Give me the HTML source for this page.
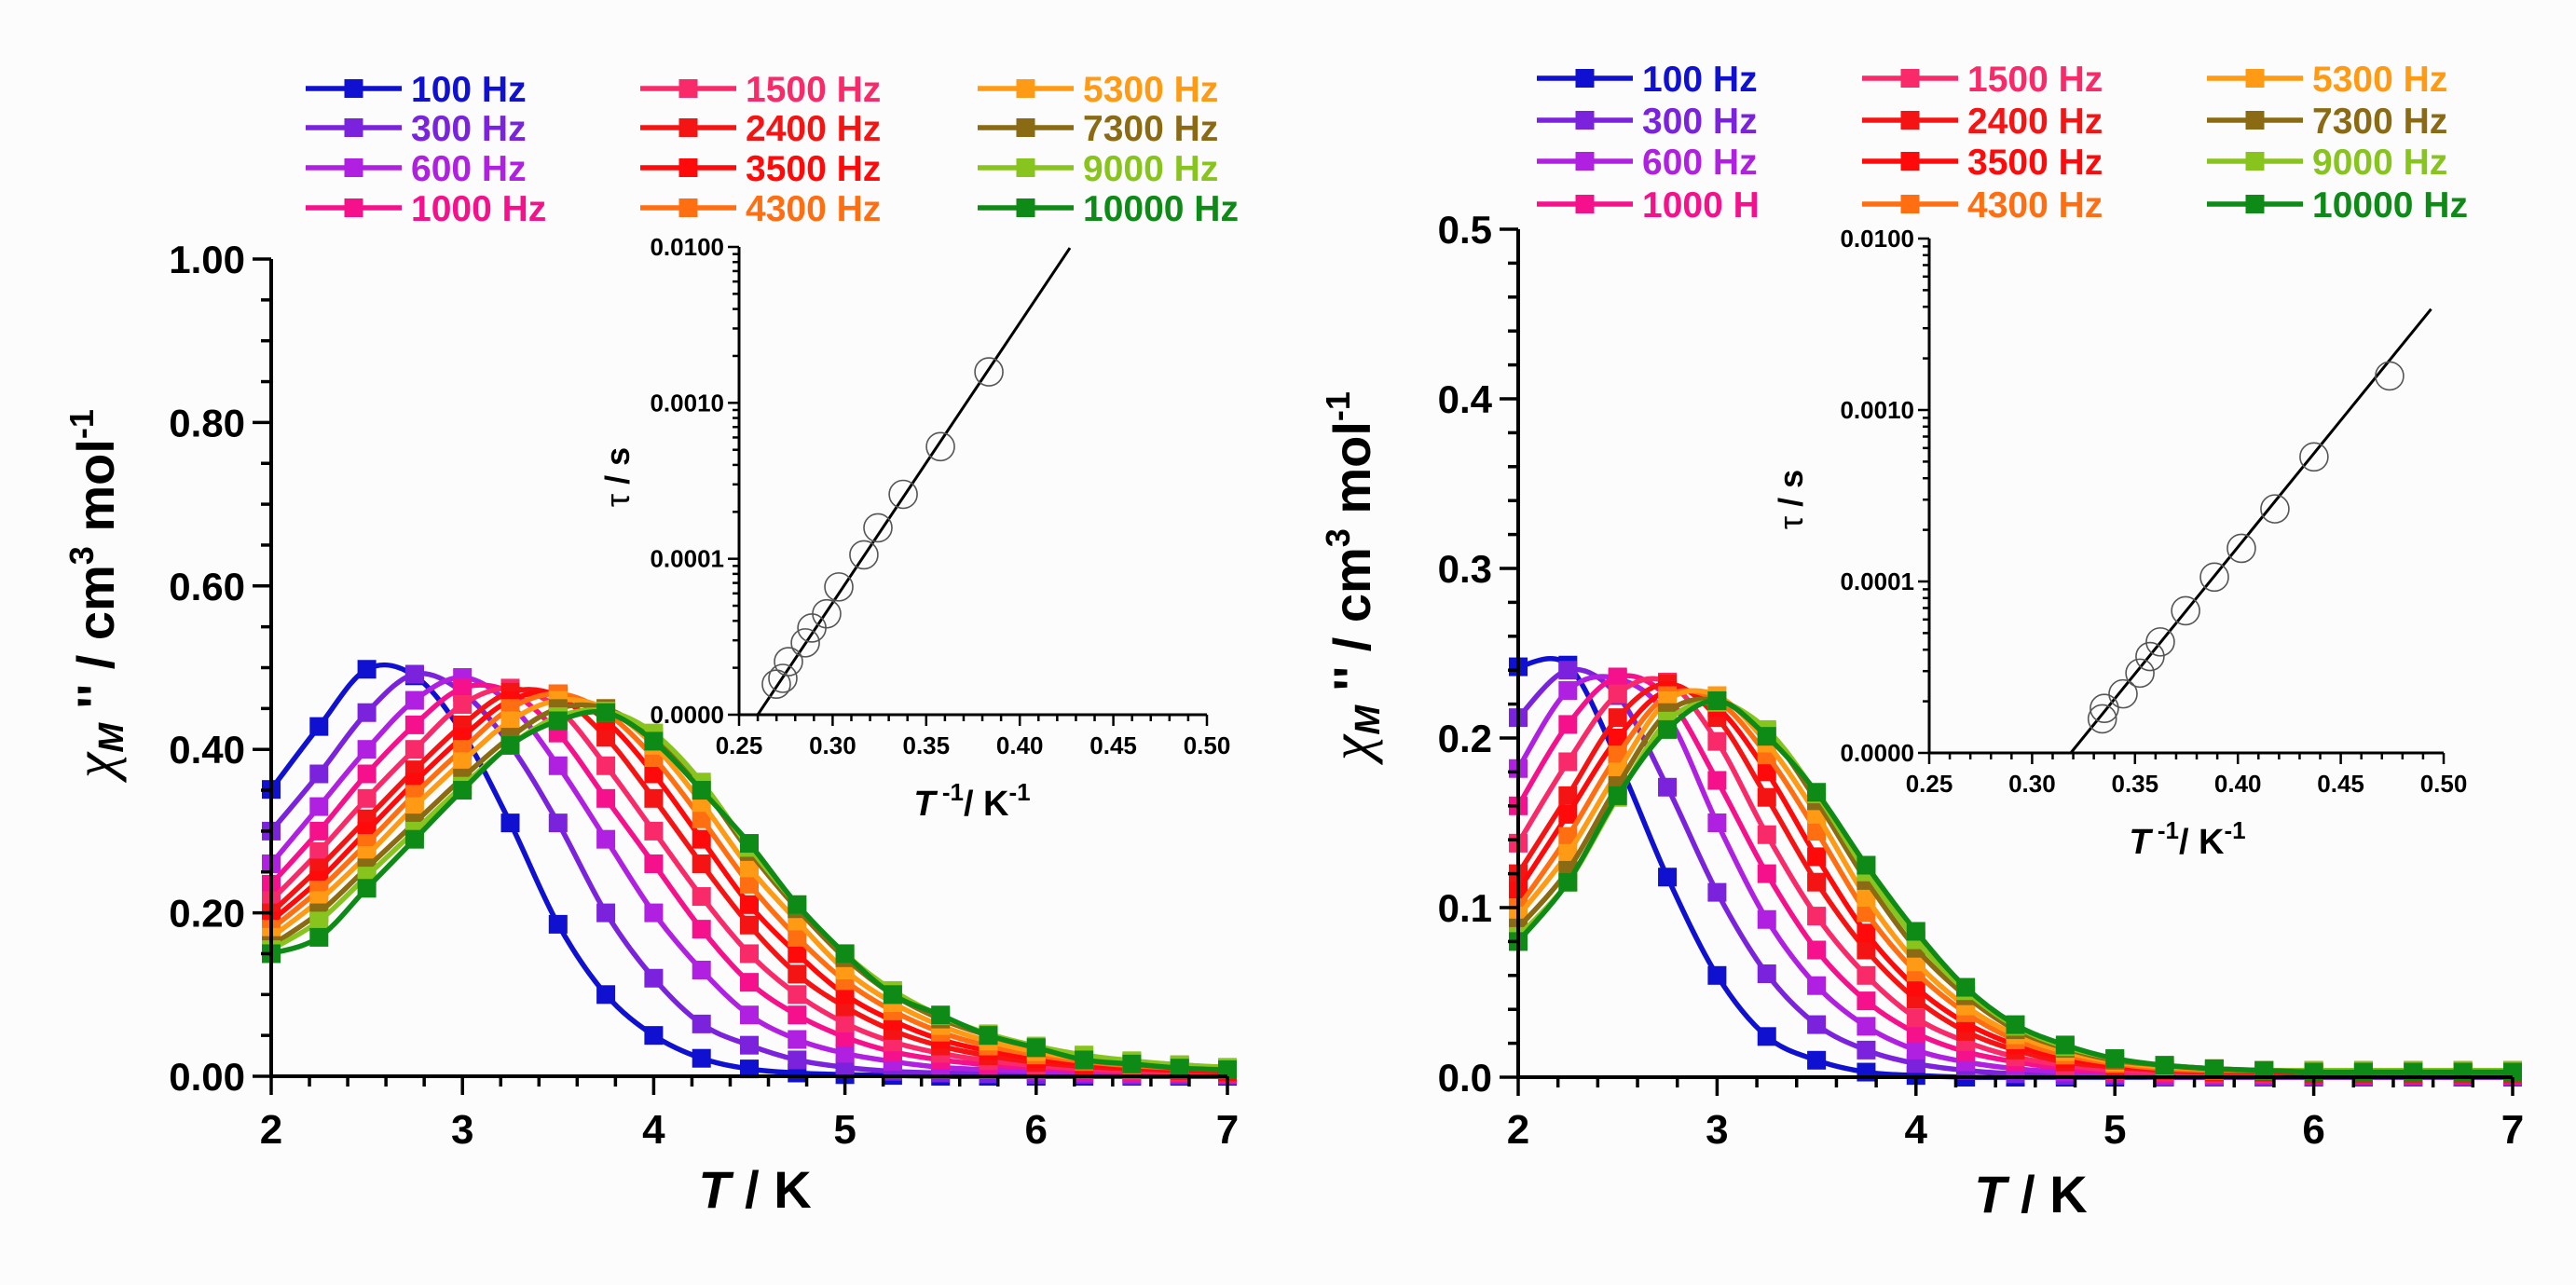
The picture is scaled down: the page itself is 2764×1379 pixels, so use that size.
<!DOCTYPE html>
<html><head><meta charset="utf-8"><style>
html,body{margin:0;padding:0;background:#fcfcfc;}
svg{display:block;font-family:"Liberation Sans",Arial,sans-serif;}
</style></head><body>
<svg id="fig" width="2764" height="1379" viewBox="0 0 2764 1379" xmlns="http://www.w3.org/2000/svg">
<rect x="0" y="0" width="2764" height="1379" fill="#fcfcfc"/>
</svg>
<script>
// ---------- data ----------
const temps = [2,2.25,2.5,2.75,3,3.25,3.5,3.75,4,4.25,4.5,4.75,5,5.25,5.5,5.75,6,6.25,6.5,6.75,7];
const freqLabels = ["100 Hz","300 Hz","600 Hz","1000 Hz","1500 Hz","2400 Hz","3500 Hz","4300 Hz","5300 Hz","7300 Hz","9000 Hz","10000 Hz"];
const freqLabelsRight = ["100 Hz","300 Hz","600 Hz","1000 H","1500 Hz","2400 Hz","3500 Hz","4300 Hz","5300 Hz","7300 Hz","9000 Hz","10000 Hz"];
const colors = ["#1010d0","#7a22dc","#b020e0","#f5108c","#f82a6a","#f51414","#ff0a0a","#ff6f12","#ff9a14","#8a6a12","#88c41e","#0e8a16"];
const leftF100 = [.351,.428,.498,.490,.420,.310,.186,.100,.050,.022,.009,.004,.002,.001,0,0,0,0,0,0,0];
const leftF300 = [.300,.370,.445,.492,.470,.405,.310,.200,.120,.064,.038,.020,.011,.006,.004,.003,.002,.002,.001,.001,.001];
const leftF600 = [.260,.330,.400,.460,.488,.455,.380,.290,.200,.130,.075,.045,.028,.018,.011,.008,.006,.004,.003,.003,.002];
const leftF1000 = [.235,.300,.370,.430,.475,.470,.420,.340,.260,.180,.115,.075,.048,.030,.020,.014,.010,.007,.005,.004,.003];
const leftF1500 = [.215,.275,.340,.400,.455,.475,.450,.380,.300,.220,.150,.100,.065,.042,.028,.019,.013,.009,.007,.005,.004];
const leftF2400 = [.200,.255,.315,.375,.430,.470,.465,.415,.340,.260,.185,.125,.085,.056,.037,.025,.017,.012,.009,.007,.005];
const leftF3500 = [.190,.240,.300,.360,.415,.460,.468,.435,.370,.290,.210,.150,.100,.068,.045,.031,.021,.015,.011,.008,.006];
const leftF4300 = [.180,.228,.285,.345,.400,.450,.468,.445,.390,.315,.235,.170,.117,.080,.054,.037,.026,.018,.013,.010,.008];
const leftF5300 = [.170,.215,.270,.330,.385,.435,.460,.450,.405,.335,.255,.190,.130,.090,.062,.043,.030,.021,.016,.012,.009];
const leftF7300 = [.160,.200,.255,.310,.365,.415,.450,.450,.415,.355,.275,.205,.145,.100,.070,.050,.035,.025,.018,.014,.010];
const leftF9000 = [.155,.190,.245,.300,.355,.405,.440,.447,.420,.360,.280,.210,.150,.105,.074,.052,.037,.026,.019,.014,.011];
const leftF10000 = [.150,.170,.230,.290,.350,.405,.435,.445,.410,.350,.285,.210,.150,.100,.075,.050,.035,.020,.015,.010,.008];
const rightF100 = [.242,.243,.187,.118,.060,.024,.010,.003,.001,0,0,0,0,0,0,0,0,0,0,0,0];
const rightF300 = [.212,.240,.225,.171,.109,.061,.031,.016,.008,.004,.002,.001,.001,0,0,0,0,0,0,0,0];
const rightF600 = [.182,.228,.235,.213,.150,.093,.054,.030,.016,.009,.005,.003,.002,.001,.001,.001,.001,.001,.001,.001,.001];
const rightF1000 = [.160,.208,.236,.224,.175,.120,.075,.045,.026,.015,.009,.005,.003,.002,.002,.002,.001,.001,.001,.001,.001];
const rightF1500 = [.138,.186,.226,.233,.198,.143,.095,.060,.035,.021,.012,.007,.004,.003,.002,.002,.002,.002,.002,.002,.002];
const rightF2400 = [.120,.166,.212,.232,.212,.165,.115,.075,.046,.027,.016,.009,.006,.004,.003,.003,.002,.002,.002,.002,.002];
const rightF3500 = [.110,.155,.200,.228,.218,.180,.130,.085,.053,.032,.019,.011,.007,.005,.004,.003,.003,.003,.003,.003,.003];
const rightF4300 = [.100,.142,.190,.225,.222,.190,.145,.097,.062,.038,.022,.013,.008,.005,.004,.004,.003,.003,.003,.003,.003];
const rightF5300 = [.095,.132,.180,.222,.225,.197,.155,.106,.068,.042,.025,.015,.009,.006,.005,.004,.004,.004,.004,.004,.004];
const rightF7300 = [.088,.122,.172,.215,.222,.204,.163,.116,.076,.048,.028,.017,.010,.007,.005,.004,.004,.004,.004,.004,.004];
const rightF9000 = [.083,.115,.165,.210,.221,.205,.167,.121,.081,.051,.030,.018,.011,.007,.005,.004,.004,.004,.004,.004,.004];
const rightF10000 = [.080,.115,.166,.205,.222,.201,.168,.125,.086,.053,.031,.019,.011,.007,.005,.004,.003,.003,.003,.003,.003];
const leftSeries = [leftF100,leftF300,leftF600,leftF1000,leftF1500,leftF2400,leftF3500,leftF4300,leftF5300,leftF7300,leftF9000,leftF10000];
const rightSeries = [rightF100,rightF300,rightF600,rightF1000,rightF1500,rightF2400,rightF3500,rightF4300,rightF5300,rightF7300,rightF9000,rightF10000];
const leftYTicks = ["0.00","0.20","0.40","0.60","0.80","1.00"];
const rightYTicks = ["0.0","0.1","0.2","0.3","0.4","0.5"];
const xTicks = ["2","3","4","5","6","7"];
const insetXTicks = ["0.25","0.30","0.35","0.40","0.45","0.50"];
const insetYTicks = ["0.0000","0.0001","0.0010","0.0100"];
const leftInvT = [0.2699,0.2734,0.2764,0.2854,0.2889,0.2968,0.3033,0.3167,0.3242,0.3377,0.3576,0.3835];
const leftTau = [1.57e-5,1.71e-5,2.19e-5,2.89e-5,3.6e-5,4.44e-5,6.6e-5,1.06e-4,1.58e-4,2.59e-4,5.24e-4,1.58e-3];
const leftFitX = [0.2600,0.4268];
const leftFitTau = [1.0e-5,9.86e-3];
const rightInvT = [0.3341,0.3351,0.3442,0.3524,0.3573,0.3623,0.3746,0.3886,0.4017,0.4180,0.4370,0.4737];
const rightTau = [1.58e-5,1.82e-5,2.21e-5,2.92e-5,3.65e-5,4.44e-5,6.75e-5,1.06e-4,1.56e-4,2.65e-4,5.33e-4,1.58e-3];
const rightFitX = [0.3188,0.4939];
const rightFitTau = [1.0e-5,3.88e-3];

// ---------- helpers ----------
const NS = "http://www.w3.org/2000/svg";
const svg = document.getElementById("fig");
function mk(tag, attrs, parent){const e=document.createElementNS(NS,tag);for(const k in attrs)e.setAttribute(k,attrs[k]);(parent||svg).appendChild(e);return e;}
function smoothPath(p){
  let d="M"+p[0][0]+","+p[0][1];
  for(let i=0;i<p.length-1;i++){
    const p0=p[i-1]||p[i],p1=p[i],p2=p[i+1],p3=p[i+2]||p[i+1];
    const c1x=p1[0]+(p2[0]-p0[0])/6,c1y=p1[1]+(p2[1]-p0[1])/6;
    const c2x=p2[0]-(p3[0]-p1[0])/6,c2y=p2[1]-(p3[1]-p1[1])/6;
    d+=" C"+c1x+","+c1y+" "+c2x+","+c2y+" "+p2[0]+","+p2[1];
  }
  return d;
}
const MS=20;

function mainPlot(cfg){
  const g=mk("g",{});
  
  
  const sx=t=>cfg.x0+(t-2)/5*(cfg.x1-cfg.x0);
  const sy=v=>cfg.y0-v/cfg.ymax*(cfg.y0-cfg.y1);
  cfg.series.forEach((vals,si)=>{
    const sg=mk("g",{},g);
    
    
    const pts=temps.map((t,i)=>[sx(t),sy(vals[i])]);
    const path=mk("path",{d:smoothPath(pts),fill:"none",stroke:colors[si],"stroke-width":5.5,"stroke-linejoin":"round"},sg);
    
    
    pts.forEach(p=>{
      const r=mk("rect",{x:p[0]-MS/2,y:p[1]-MS/2,width:MS,height:MS,fill:colors[si]},sg);
      
      
    });
  });
  const ax=mk("path",{d:`M${cfg.x0},${cfg.y1} L${cfg.x0},${cfg.y0} L${cfg.x1},${cfg.y0}`,fill:"none",stroke:"#000","stroke-width":4},g);
  
  
  for(let k=0;k<=25;k++){
    const t=2+k*0.2,x=sx(t),maj=(k%5===0);
    const tk=mk("line",{x1:x,y1:cfg.y0,x2:x,y2:cfg.y0+(maj?20:11),stroke:"#000","stroke-width":3.5},g);
    
    
  }
  xTicks.forEach((lab,i)=>{
    const t=mk("text",{x:sx(+lab),y:1227,"text-anchor":"middle","font-size":44,"font-weight":"bold",fill:"#000"},g);
    t.textContent=lab;
    
    
  });
  const nMinor=cfg.ymax/cfg.minorStep;
  for(let k=0;k<=nMinor;k++){
    const v=k*cfg.minorStep,y=sy(v),maj=(k%cfg.majorEvery===0);
    const tk=mk("line",{x1:cfg.x0,y1:y,x2:cfg.x0-(maj?20:11),y2:y,stroke:"#000","stroke-width":3.5},g);
    
    
  }
  cfg.yTicks.forEach(lab=>{
    const t=mk("text",{x:cfg.x0-28,y:sy(+lab)+15,"text-anchor":"end","font-size":42,"font-weight":"bold",fill:"#000"},g);
    t.textContent=lab;
    
    
  });
  const xt=mk("text",{x:cfg.xtx,y:cfg.xty,"text-anchor":"middle","font-size":56,"font-weight":"bold",fill:"#000"},g);
  xt.innerHTML='<tspan font-style="italic">T</tspan> / K';
  
  
  const yt=mk("text",{transform:`translate(${cfg.ytx},${cfg.yty}) rotate(-90)`,"text-anchor":"middle","font-size":56,"font-weight":"bold",fill:"#000"},g);
  yt.innerHTML='<tspan font-style="italic" font-weight="normal" font-family="Liberation Serif, serif" font-size="62">χ</tspan><tspan font-style="italic" font-size="38" dy="10">M</tspan><tspan dy="-10"> \'\' / cm</tspan><tspan font-size="36" dy="-22">3</tspan><tspan dy="22"> mol</tspan><tspan font-size="36" dy="-22">-1</tspan>';
  
  
  const lg=mk("g",{},g);
  
  
  cfg.labels.forEach((lab,i)=>{
    const col=Math.floor(i/4),row=i%4;
    const lx=cfg.legX[col],ly=cfg.legY[row];
    const eg=mk("g",{},lg);
    
    
    mk("line",{x1:lx,y1:ly,x2:lx+103,y2:ly,stroke:colors[i],"stroke-width":5.5},eg);
    mk("rect",{x:lx+51.5-MS/2,y:ly-MS/2,width:MS,height:MS,fill:colors[i]},eg);
    const t=mk("text",{x:lx+113,y:ly+14,"font-size":39,"font-weight":"bold",fill:colors[i]},eg);
    t.textContent=lab;
    
    
  });
}

function inset(cfg){
  const g=mk("g",{});
  
  
  const sx=v=>cfg.x0+(v-0.25)/0.25*(cfg.x1-cfg.x0);
  const sy=v=>cfg.yb-(Math.log10(v)+5)/3*(cfg.yb-cfg.yt);
  const fit=mk("line",{x1:sx(cfg.fitX[0]),y1:sy(cfg.fitTau[0]),x2:sx(cfg.fitX[1]),y2:sy(cfg.fitTau[1]),stroke:"#000","stroke-width":3},g);
  
  
  cfg.invT.forEach((x,i)=>{
    const c=mk("circle",{cx:sx(x),cy:sy(cfg.tau[i]),r:15,fill:"none",stroke:"#555","stroke-width":1.6},g);
    
    
  });
  const ax=mk("path",{d:`M${cfg.x0},${cfg.yt} L${cfg.x0},${cfg.yb} L${cfg.x1},${cfg.yb}`,fill:"none",stroke:"#000","stroke-width":3},g);
  
  
  for(let k=0;k<=25;k++){
    const x=sx(0.25+k*0.01),maj=(k%5===0);
    mk("line",{x1:x,y1:cfg.yb,x2:x,y2:cfg.yb+(maj?12:7),stroke:"#000","stroke-width":2.5},g);
  }
  insetXTicks.forEach(lab=>{
    const t=mk("text",{x:sx(+lab),y:cfg.yb+42,"text-anchor":"middle","font-size":26,"font-weight":"bold",fill:"#000"},g);
    t.textContent=lab;
    
    
  });
  for(let d=-5;d<=-2;d++){
    for(let m=1;m<=9;m++){
      if(d===-2&&m>1)break;
      const y=sy(m*Math.pow(10,d));
      mk("line",{x1:cfg.x0,y1:y,x2:cfg.x0-(m===1?12:7),y2:y,stroke:"#000","stroke-width":2.5},g);
    }
  }
  insetYTicks.forEach((lab,i)=>{
    const t=mk("text",{x:cfg.x0-16,y:sy(Math.pow(10,-5+i))+9,"text-anchor":"end","font-size":26,"font-weight":"bold",fill:"#000"},g);
    t.textContent=lab;
    
    
  });
  const xt=mk("text",{x:(cfg.x0+cfg.x1)/2+ (cfg.titleDx||0),y:cfg.yb+108,"text-anchor":"middle","font-size":38,"font-weight":"bold",fill:"#000"},g);
  xt.innerHTML='<tspan font-style="italic">T</tspan><tspan font-size="26" dy="-16"> -1</tspan><tspan dy="16">/ K</tspan><tspan font-size="26" dy="-16">-1</tspan>';
  
  
  const yt=mk("text",{transform:`translate(${cfg.tauX},${cfg.tauY}) rotate(-90)`,"text-anchor":"middle","font-size":36,"font-weight":"bold",fill:"#000"},g);
  yt.innerHTML='<tspan font-weight="normal">τ</tspan> / s';
  
  
}

mainPlot({name:"left-chart",series:leftSeries,labels:freqLabels,x0:291,x1:1317,y0:1155,y1:278,ymax:1.0,minorStep:0.05,majorEvery:4,yTicks:leftYTicks,
  xtx:810,xty:1296,ytx:122,yty:637,legX:[328,687,1049],legY:[95,137,180,223]});
mainPlot({name:"right-chart",series:rightSeries,labels:freqLabelsRight,x0:1629,x1:2696,y0:1156,y1:246,ymax:0.5,minorStep:0.02,majorEvery:5,yTicks:rightYTicks,
  xtx:2179,xty:1301,ytx:1470,yty:618,legX:[1649,1998,2368],legY:[84,129,173,219]});
inset({name:"left-inset",x0:793,x1:1295,yt:265,yb:767,invT:leftInvT,tau:leftTau,fitX:leftFitX,fitTau:leftFitTau,tauX:675,tauY:512,titleDx:-1});
inset({name:"right-inset",x0:2070,x1:2622,yt:256,yb:808,invT:rightInvT,tau:rightTau,fitX:rightFitX,fitTau:rightFitTau,tauX:1934,tauY:536,titleDx:1});
</script>
</body></html>
